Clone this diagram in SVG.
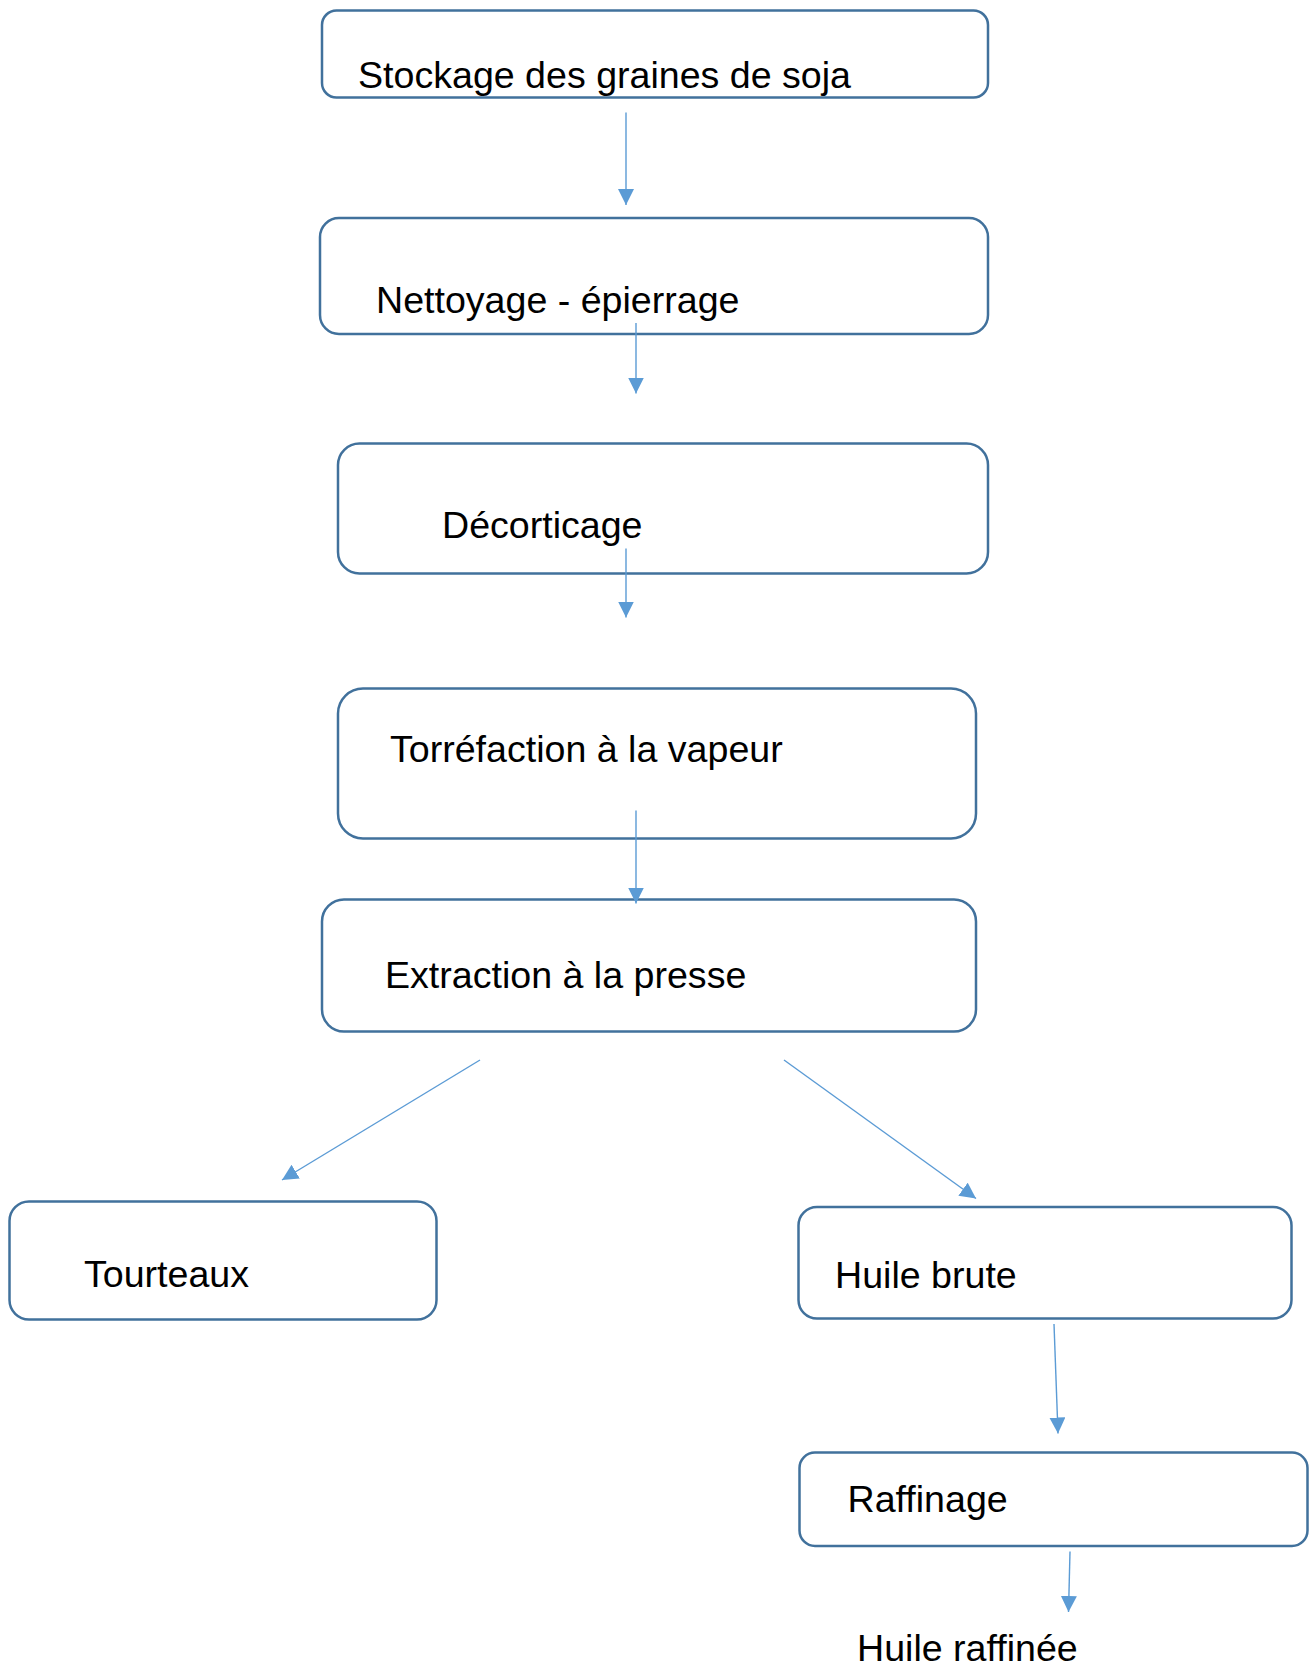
<svg xmlns="http://www.w3.org/2000/svg" width="1310" height="1667" viewBox="0 0 1310 1667">
<style>
.box{fill:#fff;stroke:#41719C;stroke-width:2.5}
.lbl{font-family:"Liberation Sans",Arial,sans-serif;font-size:37.6px;fill:#000}
.con{stroke:#5B9BD5;stroke-width:1.4;fill:none;marker-end:url(#ah)}
</style>
<defs>
<marker id="ah" markerUnits="userSpaceOnUse" markerWidth="17" markerHeight="17" refX="16" refY="8" orient="auto">
<path d="M0,0 L16,8 L0,16 z" fill="#5B9BD5"/>
</marker>
</defs>
<rect width="1310" height="1667" fill="#fff"/>
<g id="n1"><rect class="box" x="322" y="10.5" width="666" height="87" rx="14.5"/><text class="lbl" x="358" y="88">Stockage des graines de soja</text></g>
<g id="n2"><rect class="box" x="320" y="218" width="668" height="116" rx="19"/><text class="lbl" x="376" y="313">Nettoyage - épierrage</text></g>
<g id="n3"><rect class="box" x="338" y="443.5" width="650" height="130" rx="21.5"/><text class="lbl" x="442" y="538">Décorticage</text></g>
<g id="n4"><rect class="box" x="338" y="688.5" width="638" height="150" rx="25"/><text class="lbl" x="390" y="761.5">Torréfaction à la vapeur</text></g>
<g id="n5"><rect class="box" x="322" y="899.5" width="654" height="132" rx="22"/><text class="lbl" x="385" y="987.5">Extraction à la presse</text></g>
<g id="n6"><rect class="box" x="9.5" y="1201.5" width="427" height="118" rx="19.5"/><text class="lbl" x="84" y="1287">Tourteaux</text></g>
<g id="n7"><rect class="box" x="798.5" y="1207" width="493" height="111.5" rx="18.5"/><text class="lbl" x="835" y="1287.5">Huile brute</text></g>
<g id="n8"><rect class="box" x="799.5" y="1452.5" width="508" height="93.5" rx="15.5"/><text class="lbl" x="847.5" y="1512">Raffinage</text></g>
<g id="n9"><text class="lbl" x="857" y="1661">Huile raffinée</text></g>
<g id="connectors">
<line class="con" x1="626" y1="112.5" x2="626" y2="205"/>
<line class="con" x1="636" y1="323" x2="636" y2="393.5"/>
<line class="con" x1="626" y1="548.5" x2="626" y2="617.5"/>
<line class="con" x1="636" y1="810.5" x2="636" y2="903.5"/>
<line class="con" x1="480" y1="1060" x2="282" y2="1180"/>
<line class="con" x1="784" y1="1060" x2="976" y2="1198.5"/>
<line class="con" x1="1054" y1="1324" x2="1058" y2="1433.5"/>
<line class="con" x1="1070" y1="1551.5" x2="1068.5" y2="1612"/>
</g>
</svg>
